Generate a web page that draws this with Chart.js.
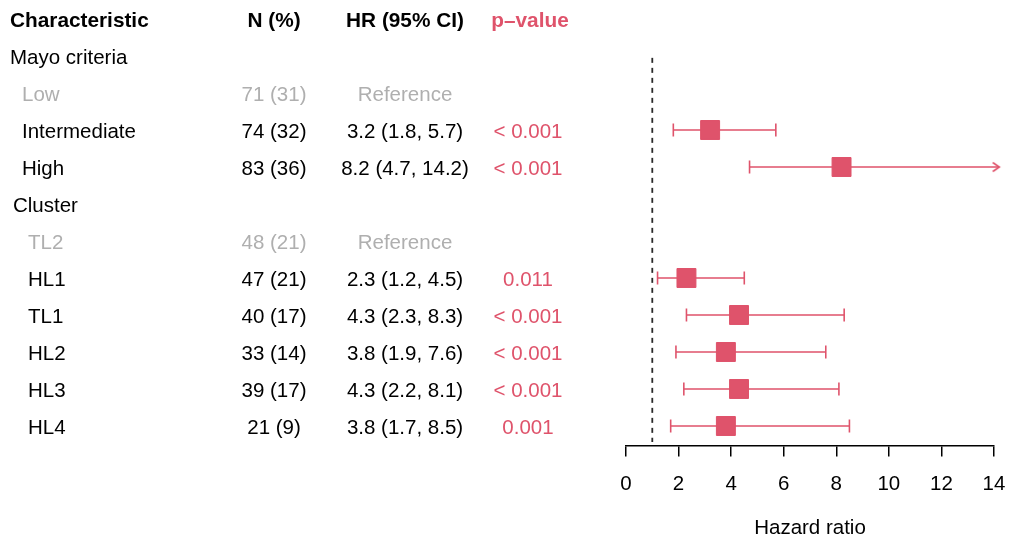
<!DOCTYPE html>
<html>
<head>
<meta charset="utf-8">
<script src="https://cdn.jsdelivr.net/npm/chart.js@4"></script>
<style>
  html, body { margin: 0; padding: 0; background: #fff; }
</style>
</head>
<body>
<canvas id="forest" width="1010" height="544"></canvas>
<script>
// rows of the table (header row is row 0, these start at row 1)
const rowLabels = ['Mayo criteria', 'Low', 'Intermediate', 'High', 'Cluster', 'TL2', 'HL1', 'TL1', 'HL2', 'HL3', 'HL4'];
const rowType = ['group', 'ref', 'level', 'level', 'group', 'ref', 'level', 'level', 'level', 'level', 'level'];
const nCount = [null, 71, 74, 83, null, 48, 47, 40, 33, 39, 21];
const nPct = [null, 31, 32, 36, null, 21, 21, 17, 14, 17, 9];
const hrEst = [null, null, 3.2, 8.2, null, null, 2.3, 4.3, 3.8, 4.3, 3.8];
const hrLow = [null, null, 1.8, 4.7, null, null, 1.2, 2.3, 1.9, 2.2, 1.7];
const hrHigh = [null, null, 5.7, 14.2, null, null, 4.5, 8.3, 7.6, 8.1, 8.5];
const pText = [null, null, '< 0.001', '< 0.001', null, null, '0.011', '< 0.001', '< 0.001', '< 0.001', '0.001'];
const headers = ['Characteristic', 'N (%)', 'HR (95% CI)', 'p–value'];
const xTicks = [0, 2, 4, 6, 8, 10, 12, 14];
const xMin = 0, xMax = 14;
const refLine = 1;

const PINK = '#DF536B';
const GREY = '#AFAFAF';
const FONT = '"Liberation Sans", Arial, Helvetica, sans-serif';
const TEXT_DY = 2; // glyphs sit a bit high with 'middle' baseline

// build point sets from the arrays
const squares = [], segments = [], caps = [], arrows = [];
hrEst.forEach((v, i) => {
  if (v === null) return;
  const row = i + 1;
  squares.push({ x: v, y: row });
  segments.push({ x: hrLow[i], y: row }, { x: hrHigh[i], y: row }, { x: hrHigh[i], y: null });
  caps.push({ x: hrLow[i], y: row });
  if (hrHigh[i] > xMax) {
    // hidden anchor so chart.js keeps the out-of-range tip in its visible range
    arrows.push({ x: hrLow[i], y: row, tip: false }, { x: hrHigh[i], y: row, tip: true });
  } else {
    caps.push({ x: hrHigh[i], y: row });
  }
});

// open arrow head, tip at the centre of the image
const arrowImg = document.createElement('canvas');
arrowImg.width = 16; arrowImg.height = 12;
(function () {
  const c = arrowImg.getContext('2d');
  c.strokeStyle = PINK; c.lineWidth = 1.6;
  c.beginPath();
  c.moveTo(1.5, 1.5); c.lineTo(8, 6); c.lineTo(1.5, 10.5);
  c.stroke();
})();

// text columns, anchored on the y scale rows
const tablePlugin = {
  id: 'tableText',
  afterDraw(chart) {
    const { ctx, scales: { y } } = chart;
    ctx.save();
    ctx.textBaseline = 'middle';
    const colN = 274, colHR = 405, colP = 528;

    // header
    const hy = y.getPixelForValue(0) + TEXT_DY;
    ctx.font = 'bold 20.8px ' + FONT;
    ctx.fillStyle = '#000';
    ctx.textAlign = 'left';
    ctx.fillText(headers[0], 10, hy);
    ctx.textAlign = 'center';
    ctx.fillText(headers[1], colN, hy);
    ctx.fillText(headers[2], colHR, hy);
    ctx.fillStyle = PINK;
    ctx.fillText(headers[3], 530, hy);

    ctx.font = '20.5px ' + FONT;
    let group = -1;
    rowLabels.forEach((lab, i) => {
      const py = y.getPixelForValue(i + 1) + TEXT_DY;
      const t = rowType[i];
      if (t === 'group') group++;
      ctx.fillStyle = t === 'ref' ? GREY : '#000';
      ctx.textAlign = 'left';
      const lx = t === 'group' ? (group === 0 ? 10 : 13) : (group === 0 ? 22 : 28);
      ctx.fillText(lab, lx, py);
      if (nCount[i] !== null) {
        ctx.textAlign = 'center';
        ctx.fillText(nCount[i] + ' (' + nPct[i] + ')', colN, py);
      }
      if (t === 'ref') {
        ctx.textAlign = 'center';
        ctx.fillText('Reference', colHR, py);
      } else if (hrEst[i] !== null) {
        ctx.textAlign = 'center';
        ctx.fillText(hrEst[i].toFixed(1) + ' (' + hrLow[i].toFixed(1) + ', ' + hrHigh[i].toFixed(1) + ')', colHR, py);
        ctx.fillStyle = PINK;
        ctx.fillText(pText[i], colP, py);
      }
    });
    ctx.restore();
  }
};

new Chart(document.getElementById('forest'), {
  type: 'scatter',
  data: {
    datasets: [
      { data: squares, pointStyle: 'rect', pointRadius: 13.4, pointHoverRadius: 13.4,
        backgroundColor: PINK, borderColor: PINK, borderWidth: 1, clip: false },
      { data: caps, pointStyle: 'line', rotation: 90, pointRadius: 6.5, pointHoverRadius: 6.5,
        borderColor: PINK, borderWidth: 1.6, clip: false },
      { data: arrows, pointStyle: c => (c.raw && c.raw.tip ? arrowImg : 'circle'),
        pointRadius: c => (c.raw && c.raw.tip ? 6 : 0),
        pointHoverRadius: c => (c.raw && c.raw.tip ? 6 : 0),
        borderWidth: 1, borderColor: 'rgba(0,0,0,0)', backgroundColor: 'rgba(0,0,0,0)', clip: false },
      { type: 'line', data: segments, borderColor: PINK, borderWidth: 1.6, pointRadius: 0,
        spanGaps: false, clip: false },
      { type: 'line', data: [{ x: refLine, y: 1.05 }, { x: refLine, y: 11.43 }],
        borderColor: '#2a2a2a', borderWidth: 1.8, borderDash: [5, 5], pointRadius: 0 }
    ]
  },
  options: {
    responsive: false,
    animation: false,
    devicePixelRatio: 1,
    layout: { padding: { left: 626, right: 16, top: 19, bottom: 0 } },
    plugins: { legend: { display: false }, tooltip: { enabled: false } },
    scales: {
      x: {
        type: 'linear', min: xMin, max: xMax,
        afterBuildTicks: s => { s.ticks = xTicks.map(v => ({ value: v })); },
        afterFit: s => { s.height = 98.5; s.paddingLeft = 0; s.paddingRight = 0; },
        ticks: { color: '#000', font: { family: FONT, size: 20.5 }, padding: 16, maxRotation: 0 },
        grid: { drawOnChartArea: false, drawTicks: true, tickLength: 11, color: '#000', lineWidth: 1.5 },
        border: { display: true, color: '#000', width: 1.5 },
        title: { display: true, text: 'Hazard ratio', color: '#000',
                 font: { family: FONT, size: 20.5 }, padding: { top: 0, bottom: 3 } }
      },
      y: {
        type: 'linear', reverse: true, min: 0, max: 11.527, display: false
      }
    }
  },
  plugins: [tablePlugin]
});
</script>
</body>
</html>
